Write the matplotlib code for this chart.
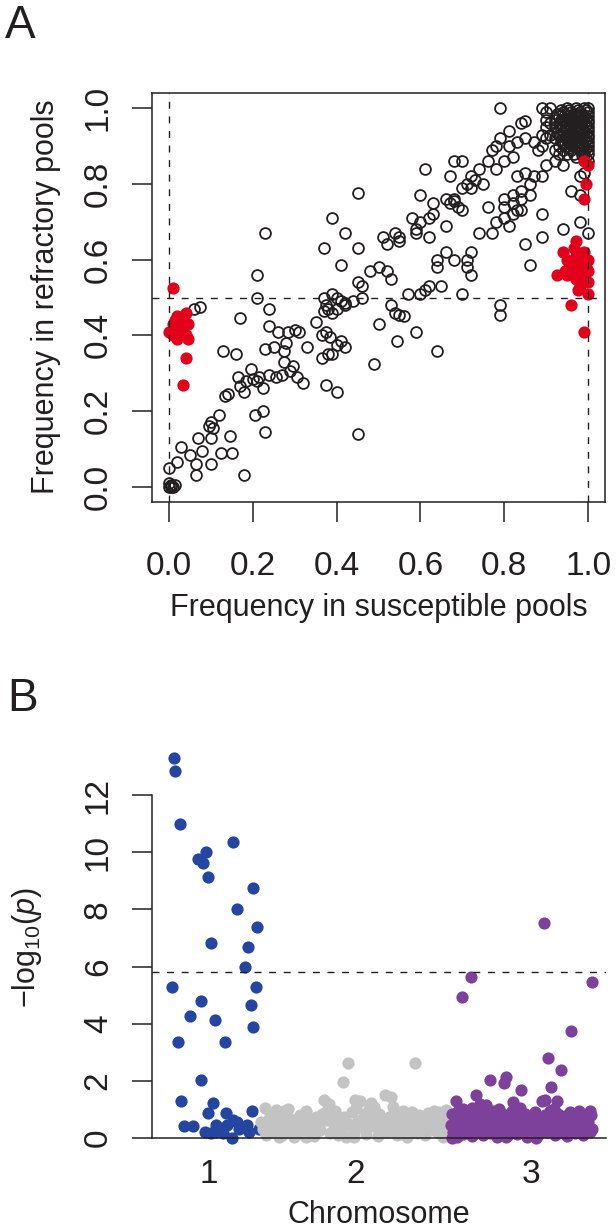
import numpy as np
import matplotlib.pyplot as plt

plt.rcParams['font.family'] = ['Liberation Sans', 'DejaVu Sans']
plt.rcParams['mathtext.fontset'] = 'custom'
plt.rcParams['mathtext.rm'] = 'Liberation Sans'
plt.rcParams['mathtext.it'] = 'Liberation Sans:italic'

# ---- panel A: allele frequencies (susceptible, refractory)
black_pts = [
    # dense cluster near (1, 1)
    (1.00, 1.00), (1.00, 0.99), (1.00, 0.98), (1.00, 0.97), (1.00, 0.96), (1.00, 0.95), (1.00, 0.94),
    (1.00, 0.93), (1.00, 0.92), (1.00, 0.91), (1.00, 0.90), (1.00, 0.89), (1.00, 0.88), (1.00, 0.86),
    (0.99, 1.00), (0.99, 0.98), (0.99, 0.96), (0.99, 0.94), (0.99, 0.92), (0.99, 0.90), (0.99, 0.88),
    (0.98, 0.99), (0.98, 0.97), (0.98, 0.95), (0.98, 0.93), (0.98, 0.91), (0.98, 0.89),
    (0.97, 1.00), (0.97, 0.98), (0.97, 0.96), (0.97, 0.94), (0.97, 0.92), (0.97, 0.90), (0.97, 0.87),
    (0.96, 0.99), (0.96, 0.97), (0.96, 0.95), (0.96, 0.93), (0.96, 0.91), (0.96, 0.89),
    (0.95, 1.00), (0.95, 0.98), (0.95, 0.96), (0.95, 0.94), (0.95, 0.92), (0.95, 0.90), (0.95, 0.88),
    (0.94, 0.99), (0.94, 0.97), (0.94, 0.95), (0.94, 0.93), (0.94, 0.91), (0.94, 0.89),
    (0.93, 0.98), (0.93, 0.96), (0.93, 0.93), (0.93, 0.90), (0.93, 0.88),
    (0.92, 0.97), (0.92, 0.95), (0.92, 0.92), (0.92, 0.89),
    (0.91, 1.00), (0.91, 0.96), (0.91, 0.93), (0.90, 0.99), (0.90, 0.97), (0.90, 0.95), (0.90, 0.92),
    (0.89, 1.00), (0.89, 0.93), (0.89, 0.90),
    (0.995, 0.995), (0.995, 0.975), (0.995, 0.955), (0.995, 0.935), (0.995, 0.915), (0.995, 0.895),
    (0.985, 0.985), (0.985, 0.965), (0.985, 0.945), (0.985, 0.925), (0.985, 0.905), (0.985, 0.875),
    (0.975, 0.995), (0.975, 0.975), (0.975, 0.955), (0.975, 0.935), (0.975, 0.915), (0.975, 0.895),
    (0.965, 0.985), (0.965, 0.965), (0.965, 0.945), (0.965, 0.925), (0.965, 0.905), (0.965, 0.88),
    (0.955, 0.995), (0.955, 0.975), (0.955, 0.955), (0.955, 0.935), (0.955, 0.915), (0.955, 0.895),
    (0.945, 0.985), (0.945, 0.965), (0.945, 0.945), (0.945, 0.925), (0.945, 0.905),
    (0.935, 0.995), (0.935, 0.97), (0.935, 0.945), (0.935, 0.915), (0.925, 0.985), (0.925, 0.935),
    # upper band
    (0.79, 1.00), (0.84, 0.96), (0.85, 0.965), (0.81, 0.94), (0.79, 0.92), (0.78, 0.90), (0.77, 0.89),
    (0.81, 0.90), (0.83, 0.91), (0.85, 0.92), (0.87, 0.91), (0.88, 0.89), (0.82, 0.87), (0.80, 0.86),
    (0.78, 0.84), (0.76, 0.86), (0.74, 0.84), (0.72, 0.82), (0.70, 0.86), (0.68, 0.86), (0.67, 0.82),
    (0.61, 0.84), (0.71, 0.80), (0.72, 0.79), (0.73, 0.81), (0.75, 0.80), (0.70, 0.79), (0.90, 0.85),
    (0.92, 0.86), (0.94, 0.85), (0.89, 0.82), (0.87, 0.82), (0.85, 0.83), (0.83, 0.82), (0.86, 0.80),
    (0.99, 0.83), (0.98, 0.82), (0.96, 0.78), (0.98, 0.77),
    (0.45, 0.775), (0.60, 0.77), (0.76, 0.74), (0.80, 0.76), (0.82, 0.77), (0.84, 0.78), (0.86, 0.77),
    (0.80, 0.74), (0.82, 0.75), (0.84, 0.76), (0.83, 0.73), (0.94, 0.68), (0.98, 0.70), (1.00, 0.67),
    (0.89, 0.72), (0.89, 0.66), (0.85, 0.64), (0.86, 0.585),
    (0.39, 0.71), (0.23, 0.67), (0.42, 0.67), (0.37, 0.63), (0.45, 0.63), (0.51, 0.66), (0.52, 0.64),
    (0.54, 0.67), (0.55, 0.66), (0.55, 0.65), (0.58, 0.71), (0.60, 0.70), (0.62, 0.71), (0.63, 0.72),
    (0.63, 0.75), (0.66, 0.76), (0.67, 0.75), (0.68, 0.76), (0.69, 0.74), (0.70, 0.73), (0.68, 0.755),
    (0.59, 0.67), (0.62, 0.66), (0.66, 0.69), (0.59, 0.68), (0.66, 0.62), (0.68, 0.60), (0.71, 0.60),
    (0.72, 0.62), (0.71, 0.58), (0.72, 0.56), (0.64, 0.60), (0.64, 0.58), (0.74, 0.67), (0.77, 0.67),
    (0.78, 0.70), (0.80, 0.71), (0.81, 0.69), (0.82, 0.72), (0.84, 0.73),
    (0.41, 0.585), (0.21, 0.56), (0.48, 0.57), (0.50, 0.58), (0.52, 0.57), (0.53, 0.55), (0.45, 0.54),
    (0.46, 0.53), (0.37, 0.50), (0.39, 0.51), (0.40, 0.50), (0.41, 0.49), (0.40, 0.47), (0.42, 0.48),
    (0.44, 0.49), (0.46, 0.50), (0.38, 0.47), (0.37, 0.465), (0.57, 0.51), (0.60, 0.51), (0.61, 0.52),
    (0.62, 0.53), (0.65, 0.53), (0.70, 0.51), (0.21, 0.50), (0.24, 0.47), (0.06, 0.47), (0.075, 0.475),
    (0.53, 0.48), (0.54, 0.46), (0.55, 0.455), (0.56, 0.45), (0.79, 0.48), (0.79, 0.455), (0.17, 0.445),
    # lower half
    (0.35, 0.435), (0.375, 0.48), (0.39, 0.46), (0.42, 0.485), (0.24, 0.425), (0.26, 0.41), (0.285, 0.41),
    (0.30, 0.415), (0.31, 0.41), (0.28, 0.38), (0.275, 0.36), (0.33, 0.37), (0.25, 0.37), (0.23, 0.365),
    (0.365, 0.40), (0.375, 0.41), (0.385, 0.395), (0.365, 0.34), (0.38, 0.35), (0.39, 0.35), (0.40, 0.375),
    (0.41, 0.385), (0.42, 0.37), (0.50, 0.43), (0.545, 0.385), (0.59, 0.41), (0.64, 0.36), (0.49, 0.325),
    (0.13, 0.36), (0.16, 0.35), (0.195, 0.31), (0.215, 0.29), (0.24, 0.295), (0.255, 0.29), (0.27, 0.295),
    (0.29, 0.305), (0.305, 0.29), (0.32, 0.275), (0.165, 0.29), (0.17, 0.265), (0.185, 0.28), (0.20, 0.285),
    (0.21, 0.28), (0.225, 0.26), (0.18, 0.25), (0.275, 0.33), (0.295, 0.32), (0.375, 0.27), (0.40, 0.25),
    (0.135, 0.24), (0.14, 0.245), (0.12, 0.19), (0.10, 0.17), (0.095, 0.16), (0.105, 0.155), (0.205, 0.19),
    (0.225, 0.20), (0.23, 0.145), (0.45, 0.14), (0.07, 0.13), (0.10, 0.13), (0.145, 0.135), (0.03, 0.105),
    (0.08, 0.095), (0.05, 0.085), (0.02, 0.065), (0.125, 0.09), (0.15, 0.09), (0.065, 0.06), (0.10, 0.06),
    (0.00, 0.05), (0.065, 0.03), (0.18, 0.03),
    (0.00, 0.00), (0.005, 0.005), (0.01, 0.00), (0.00, 0.01), (0.015, 0.005), (0.005, 0.00),
]
red_pts = [
    (0.99, 0.86), (1.00, 0.85), (0.995, 0.80), (0.99, 0.76), (0.97, 0.65), (0.94, 0.62), (0.95, 0.60),
    (0.97, 0.61), (0.985, 0.59), (0.995, 0.58), (0.975, 0.58), (0.99, 0.56), (1.00, 0.54), (0.985, 0.54),
    (1.00, 0.51), (0.925, 0.56), (0.95, 0.56), (0.96, 0.48), (0.99, 0.41), (0.965, 0.57), (0.98, 0.60),
    (0.96, 0.59), (0.97, 0.55), (0.98, 0.53), (0.955, 0.58), (0.99, 0.62), (0.965, 0.63), (0.975, 0.52),
    (0.945, 0.57), (1.00, 0.60), (1.00, 0.57),
    (0.01, 0.525), (0.00, 0.41), (0.01, 0.40), (0.015, 0.44), (0.02, 0.45), (0.025, 0.43), (0.03, 0.42),
    (0.035, 0.44), (0.04, 0.46), (0.045, 0.43), (0.04, 0.40), (0.02, 0.39), (0.03, 0.41), (0.04, 0.34),
    (0.035, 0.27), (0.01, 0.43), (0.025, 0.41), (0.045, 0.39),
]
freq_ticks = [0.0, 0.2, 0.4, 0.6, 0.8, 1.0]

# ---- panel B: -log10(p) along the genome (x in relative position units, 0-100)
chr1_pos = [4.8, 5.0, 6.1, 17.8, 10.1, 11.2, 12.0, 12.4, 22.2, 18.7, 23.2, 13.1, 21.1, 20.4, 22.9, 4.4,
            10.7, 21.9, 8.3, 13.9, 22.2, 5.7, 16.1, 10.9, 6.3, 13.5, 12.4, 16.4, 22.0, 7.1, 9.1,
            13.1, 14.2, 15.2, 16.5, 17.8, 18.7, 19.1, 20.9, 21.3, 23.5, 17.6, 15.7, 14.0, 11.7]
chr1_logp = [13.29, 12.83, 11.0, 10.37, 9.78, 9.64, 10.0, 9.15, 8.74, 8.02, 7.39, 6.84, 6.67, 5.97, 5.30, 5.28,
             4.81, 4.67, 4.26, 4.14, 3.89, 3.36, 3.36, 2.03, 1.28, 1.22, 0.89, 0.89, 0.93, 0.41, 0.41,
             0.17, 0.46, 0.29, 0.46, 0.64, 0.55, 0.33, 0.46, 0.20, 0.31, 0.00, 0.17, 0.20, 0.20]

chr2_pos = [24.0, 24.5, 24.8, 25.2, 25.6, 26.1, 26.5, 27.0, 27.4, 27.8, 28.2, 28.7, 29.1, 29.5, 29.9, 30.4,
            30.8, 31.2, 31.7, 32.1, 32.6, 33.0, 33.5, 33.9, 34.3, 34.8, 35.2, 35.7, 36.1, 36.5, 37.0, 37.4,
            37.9, 38.3, 38.7, 39.2, 39.6, 40.0, 40.5, 40.9, 41.4, 41.8, 42.0, 42.3, 42.7, 43.1, 43.5, 44.0,
            44.4, 44.8, 45.3, 45.9, 46.2, 46.6, 47.1, 47.5, 47.9, 48.3, 48.8, 49.2, 49.7, 50.1, 50.5, 51.0,
            51.3, 51.8, 52.3, 52.7, 53.1, 53.6, 54.0, 54.4, 54.9, 55.3, 55.7, 56.2, 56.6, 57.0, 57.5, 57.9,
            58.3, 58.8, 59.2, 59.6, 60.1, 60.5, 60.9, 61.4, 61.8, 62.2, 62.7, 63.1, 63.5, 64.0, 64.4, 64.8,
            65.2, 65.5, 26.0, 28.0, 30.0, 32.0, 34.0, 36.0, 38.0, 40.2, 42.5, 44.6, 46.8, 49.0, 50.8, 53.0,
            55.0, 57.2, 59.0, 61.0, 63.3, 39.0, 45.0, 47.0]
chr2_logp = [0.55, 0.30, 1.04, 0.10, 0.62, 0.45, 0.20, 0.78, 0.99, 0.35, 0.58, 0.12, 0.93, 0.40, 0.70, 0.25,
             0.52, 0.05, 0.66, 0.30, 0.82, 0.15, 0.48, 0.93, 0.60, 0.22, 0.38, 0.08, 0.72, 0.50, 0.28, 0.85,
             1.33, 0.62, 1.04, 0.18, 0.87, 0.45, 0.70, 0.10, 0.55, 0.32, 1.97, 0.75, 0.05, 2.61, 0.48, 0.90,
             0.25, 1.33, 0.60, 1.31, 0.38, 0.78, 0.15, 0.55, 1.00, 1.22, 0.42, 0.68, 0.08, 0.85, 0.30, 0.58,
             1.51, 0.20, 0.72, 1.45, 0.40, 0.92, 0.12, 0.62, 0.35, 0.93, 0.50, 0.05, 0.75, 0.28, 0.55, 2.61,
             0.18, 0.82, 0.42, 0.65, 0.10, 0.48, 0.87, 0.30, 0.60, 0.93, 0.20, 0.70, 0.45, 0.05, 0.55, 0.99,
             0.35, 0.78, 0.88, 0.05, 1.00, 0.60, 0.05, 0.35, 0.80, 0.95, 0.55, 0.05, 0.40, 1.10, 0.65, 1.10,
             0.15, 0.90, 0.25, 0.40, 0.90, 1.20, 1.05, 0.85]

chr3_pos = [86.4, 70.3, 68.3, 96.9, 92.4, 87.3, 90.1, 74.4, 77.9, 77.5, 81.2, 87.9, 71.4, 67.0, 86.6, 89.1,
            79.6, 72.3, 96.5, 88.5, 68.5, 76.5,
            65.8, 66.1, 66.4, 66.8, 67.2, 67.5, 67.9, 68.2, 68.6, 69.0, 69.3, 69.7, 70.0, 70.4, 70.8, 71.1,
            71.5, 71.9, 72.2, 72.6, 73.0, 73.3, 73.7, 74.1, 74.4, 74.8, 75.2, 75.5, 75.9, 76.3, 76.6, 77.0,
            77.4, 77.7, 78.1, 78.5, 78.8, 79.2, 79.6, 79.9, 80.3, 80.7, 81.0, 81.4, 81.8, 82.1, 82.5, 82.9,
            83.2, 83.6, 84.0, 84.3, 84.7, 85.1, 85.4, 85.8, 86.2, 86.5, 86.9, 87.3, 87.6, 88.0, 88.4, 88.7,
            89.1, 89.5, 89.8, 90.2, 90.6, 90.9, 91.3, 91.7, 92.0, 92.4, 92.8, 93.1, 93.5, 93.9, 94.2, 94.6,
            95.0, 95.3, 95.7, 96.1, 96.4, 96.8, 97.0, 66.0, 70.5, 75.0, 80.0, 84.5, 88.0, 91.0, 94.0, 73.5, 78.0]
chr3_logp = [7.51, 5.63, 4.95, 5.45, 3.74, 2.81, 2.38, 2.03, 2.15, 1.94, 1.68, 1.80, 1.50, 1.28, 1.33, 1.28,
             1.25, 1.20, 0.95, 1.02, 1.00, 1.00,
             0.45, 0.85, 0.20, 0.60, 0.05, 0.95, 0.35, 0.70, 0.15, 0.50, 0.88, 0.28, 0.62, 0.08, 0.45, 0.80,
             0.22, 0.55, 0.95, 0.35, 0.12, 0.68, 0.42, 0.85, 0.18, 0.58, 0.30, 0.75, 0.05, 0.50, 0.90, 0.25,
             0.62, 0.40, 0.80, 0.12, 0.55, 0.95, 0.32, 0.70, 0.15, 0.48, 1.05, 0.28, 0.65, 0.85, 0.05, 0.42,
             0.72, 0.22, 0.58, 0.90, 0.35, 0.10, 0.62, 1.30, 0.45, 0.80, 0.20, 0.55, 0.95, 0.30, 0.68, 0.12,
             0.48, 0.85, 0.25, 0.62, 0.40, 0.78, 0.08, 0.52, 0.90, 0.30, 0.65, 0.18, 0.45, 0.82, 0.35, 0.60,
             0.10, 0.72, 0.40, 0.55, 0.22, 0.80, 0.30, 0.00, 1.05, 0.95, 0.88, 0.00, 0.98, 0.62, 0.95, 1.15, 0.02]

chrom_centers = [12.6, 44.8, 83.5]
chrom_labels = ['1', '2', '3']
logp_ticks = [0, 2, 4, 6, 8, 10, 12]
threshold = 5.81

ink = '#231f20'
W, H = 616, 1230
fig = plt.figure(figsize=(W / 100, H / 100), dpi=100)

def box(l, t, r, b):
    return [l / W, 1 - b / H, (r - l) / W, (b - t) / H]

dash = (0, (5, 5.5))

# ---------------- panel A
axA = fig.add_axes(box(152, 93, 605, 502))
bx = [p[0] for p in black_pts]
by = [p[1] for p in black_pts]
rx = [p[0] for p in red_pts]
ry = [p[1] for p in red_pts]
axA.plot(bx, by, 'o', mfc='none', mec=ink, ms=7.8, mew=1.3, ls='none')
axA.plot(rx, ry, 'o', color='#e3001b', ms=8.8, mew=0, ls='none')
axA.axhline(0.5, color=ink, lw=1.0, ls=dash)
axA.axvline(0.0, color=ink, lw=1.0, ls=dash)
axA.axvline(1.0, color=ink, lw=1.0, ls=dash)
axA.set_xlim(-0.04, 1.04)
axA.set_ylim(-0.04, 1.04)
axA.set_xticks(freq_ticks)
axA.set_xticklabels([f'{v:.1f}' for v in freq_ticks])
axA.set_yticks(freq_ticks)
axA.set_yticklabels([f'{v:.1f}' for v in freq_ticks], rotation=90, va='center')
axA.tick_params(direction='out', length=14.5, width=1.1, labelsize=24, colors=ink)
axA.tick_params(axis='x', pad=21)
axA.tick_params(axis='y', pad=13)
for s in axA.spines.values():
    s.set_linewidth(1.1)
    s.set_color(ink)

fig.text(378.5 / W, 1 - 616 / H, 'Frequency in susceptible pools', ha='center', va='baseline',
         fontsize=22, color=ink)
fig.text(46 / W, 1 - 297 / H, 'Frequency in refractory pools', ha='center', va='center',
         rotation=90, fontsize=22, color=ink)
fig.text(5 / W, 1 - 4 / H, 'A', ha='left', va='top', fontsize=33, color=ink)

# ---------------- panel B
axB = fig.add_axes(box(152, 758, 606, 1138))
axB.plot(chr1_pos, chr1_logp, 'o', color='#2446a0', ms=8.8, mew=0, ls='none', clip_on=False)
axB.plot(chr2_pos, chr2_logp, 'o', color='#c3c3c3', ms=8.8, mew=0, ls='none', clip_on=False)
axB.plot(chr3_pos, chr3_logp, 'o', color='#7d419b', ms=8.8, mew=0, ls='none', clip_on=False)
axB.axhline(threshold, color=ink, lw=1.0, ls=dash)
axB.set_xlim(0, 100)
axB.set_ylim(0, 13.3)
axB.spines['top'].set_visible(False)
axB.spines['right'].set_visible(False)
axB.spines['left'].set_bounds(0, 12)
for s in axB.spines.values():
    s.set_linewidth(1.1)
    s.set_color(ink)
axB.set_xticks(chrom_centers)
axB.set_xticklabels(chrom_labels)
axB.set_yticks(logp_ticks)
axB.set_yticklabels([str(v) for v in logp_ticks], rotation=90, va='center')
axB.tick_params(direction='out', width=1.1, labelsize=24, colors=ink)
axB.tick_params(axis='y', length=14.5, pad=13)
axB.tick_params(axis='x', length=0, pad=15)

fig.text(379 / W, 1 - 1223 / H, 'Chromosome', ha='center', va='baseline', fontsize=22, color=ink)
fig.text(27 / W, 1 - 948 / H, r'$-\mathrm{log}_{10}(p)$', ha='center', va='center',
         rotation=90, fontsize=22, color=ink)
fig.text(7 / W, 1 - 677 / H, 'B', ha='left', va='top', fontsize=33, color=ink)

fig.savefig('out.png', dpi=100)
